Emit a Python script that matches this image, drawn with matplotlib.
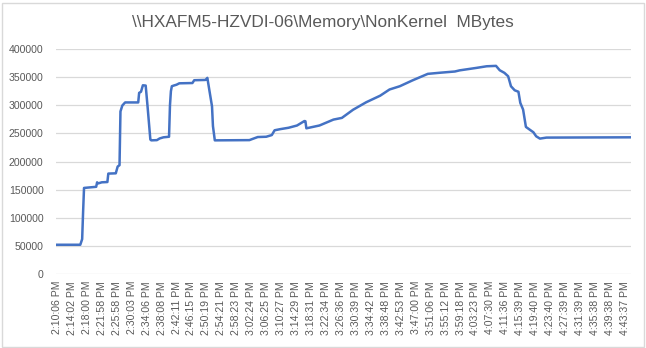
import matplotlib.pyplot as plt
from matplotlib.patches import Rectangle

title = "\\\\HXAFM5-HZVDI-06\\Memory\\NonKernel  MBytes"

tick_labels = ['2:10:06 PM', '2:14:02 PM', '2:18:00 PM', '2:21:58 PM', '2:25:58 PM',
               '2:30:03 PM', '2:34:06 PM', '2:38:08 PM', '2:42:11 PM', '2:46:15 PM',
               '2:50:19 PM', '2:54:21 PM', '2:58:23 PM', '3:02:24 PM', '3:06:25 PM',
               '3:10:27 PM', '3:14:29 PM', '3:18:31 PM', '3:22:34 PM', '3:26:36 PM',
               '3:30:39 PM', '3:34:42 PM', '3:38:48 PM', '3:42:53 PM', '3:47:00 PM',
               '3:51:06 PM', '3:55:12 PM', '3:59:18 PM', '4:03:23 PM', '4:07:30 PM',
               '4:11:36 PM', '4:15:39 PM', '4:19:40 PM', '4:23:40 PM', '4:27:39 PM',
               '4:31:39 PM', '4:35:38 PM', '4:39:38 PM', '4:43:37 PM']
samples_per_label = 16

# sample number (one every ~15 s) and NonKernel MBytes
sample = [0, 25, 26, 27, 28, 29, 42, 43, 44, 48, 54, 55, 63, 65, 67, 68, 70, 73, 87,
          88, 90, 92, 95, 97, 100, 101, 107, 110, 114, 120, 121, 122, 123, 125, 128,
          131, 145, 147, 159, 161, 166, 167, 169, 206, 210, 215, 224, 230, 233, 239,
          248, 257, 265, 266, 267, 281, 296, 305, 317, 331, 346, 356, 367, 381, 397,
          410, 426, 431, 449, 460, 470, 474, 479, 483, 486, 490, 494, 496, 499, 502,
          506, 510, 513, 517, 524, 614]
mbytes = [52000, 52000, 57000, 62000, 110000, 153000, 155000, 163000, 161000, 163000,
          163500, 178500, 179000, 191000, 193500, 289000, 299500, 305000, 305000,
          322000, 324000, 335500, 335000, 298000, 239000, 237600, 238000, 241000,
          243000, 244000, 300000, 325000, 333800, 335000, 336500, 339000, 339500,
          344500, 345000, 348700, 298000, 263000, 237600, 238000, 240500, 243500,
          244000, 247000, 255500, 257500, 260000, 264000, 272000, 271500, 259000,
          264000, 274500, 277500, 292000, 305300, 317000, 328000, 333800, 344500,
          355800, 357800, 360000, 362000, 366400, 369300, 370000, 362200, 357600,
          351500, 333800, 326600, 324000, 304200, 292300, 261500, 256700, 252000,
          244800, 240700, 242500, 243000]

plt.rcParams['font.family'] = ['Liberation Sans', 'DejaVu Sans']

fig = plt.figure(figsize=(6.46, 3.48), dpi=100)
ax = fig.add_axes([56 / 646, 74 / 348, 575 / 646, 225 / 348])

ax.plot(sample, mbytes, color='#4472C4', linewidth=1.8, solid_joinstyle='round')

ax.set_ylim(0, 400000)
ax.set_yticks(range(0, 400001, 50000))
ax.set_yticklabels([str(v) for v in range(0, 400001, 50000)])
ax.set_xlim(-1, 614.5)
ax.set_xticks([i * samples_per_label for i in range(len(tick_labels))])
ax.set_xticklabels(tick_labels, rotation=90)

ax.grid(axis='y', color='#D9D9D9', linewidth=0.9)
ax.set_axisbelow(True)
for s in ax.spines.values():
    s.set_visible(False)
ax.tick_params(length=0, labelsize=7.6, colors='#595959', pad=5)
ax.tick_params(axis='y', labelsize=7.6, pad=9)

fig.text(0.5, 1 - 23 / 348, title, ha='center', va='center', fontsize=12.4, color='#595959')

fig.patches.append(Rectangle((1.5 / 646, 1.5 / 348), 642 / 646, 344 / 348,
                             transform=fig.transFigure, fill=False,
                             edgecolor='#D9D9D9', linewidth=1))

fig.savefig('out.png', dpi=100)
